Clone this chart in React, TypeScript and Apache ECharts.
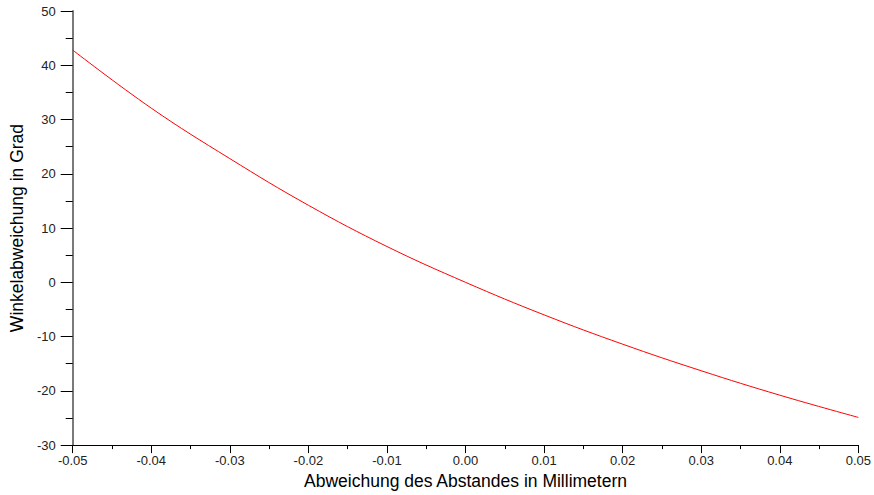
import React, { useEffect, useRef } from "react";
import * as echarts from "echarts";

const xValues = [-0.05, -0.04, -0.03, -0.02, -0.01, 0.0, 0.01, 0.02, 0.03, 0.04, 0.05];
const angleValues = [42.8, 32.1, 22.8, 14.2, 6.6, 0.0, -6.0, -11.4, -16.3, -20.8, -24.9];

const xTitle = "Abweichung des Abstandes in Millimetern";
const yTitle = "Winkelabweichung in Grad";

export default function App() {
  const ref = useRef<HTMLDivElement>(null);
  useEffect(() => {
    if (!ref.current) return;
    const chart = echarts.init(ref.current, undefined, { renderer: "svg" });
    const font = "'Liberation Sans', Arial, sans-serif";
    chart.setOption({
      animation: false,
      backgroundColor: "#ffffff",
      grid: { left: 69, right: 11.5, top: 11, bottom: 48.5, containLabel: false },
      xAxis: {
        type: "value",
        min: -0.05,
        max: 0.05,
        interval: 0.01,
        name: xTitle,
        nameLocation: "middle",
        nameGap: 26,
        nameTextStyle: { fontFamily: font, fontSize: 17.5, color: "#000" },
        axisLine: { show: true, onZero: false, lineStyle: { color: "#000", width: 1 } },
        axisTick: { show: true, length: 8, lineStyle: { color: "#000" } },
        minorTick: { show: true, splitNumber: 2, length: 4, lineStyle: { color: "#000" } },
        splitLine: { show: false },
        axisLabel: {
          fontFamily: font,
          fontSize: 13,
          color: "#222",
          margin: 9,
          formatter: (v: number) => (Math.abs(v) < 1e-9 ? "0.00" : v.toFixed(2)),
        },
      },
      yAxis: {
        type: "value",
        min: -30,
        max: 50,
        interval: 10,
        name: yTitle,
        nameLocation: "middle",
        nameGap: 41,
        nameTextStyle: { fontFamily: font, fontSize: 17.5, color: "#000" },
        axisLine: { show: true, onZero: false, lineStyle: { color: "#7a7a7a", width: 2 } },
        axisTick: { show: true, length: 12, lineStyle: { color: "#000" } },
        minorTick: { show: true, splitNumber: 2, length: 7, lineStyle: { color: "#000" } },
        splitLine: { show: false },
        axisLabel: { fontFamily: font, fontSize: 13, color: "#222", margin: 17 },
      },
      series: [
        {
          type: "line",
          data: xValues.map((x, i) => [x, angleValues[i]]),
          smooth: 0.4,
          showSymbol: false,
          symbol: "none",
          lineStyle: { color: "#ff0000", width: 1 },
        },
      ],
    });
    return () => chart.dispose();
  }, []);
  return <div ref={ref} style={{ width: 874, height: 495, position: "absolute", left: 0, top: 0 }} />;
}
